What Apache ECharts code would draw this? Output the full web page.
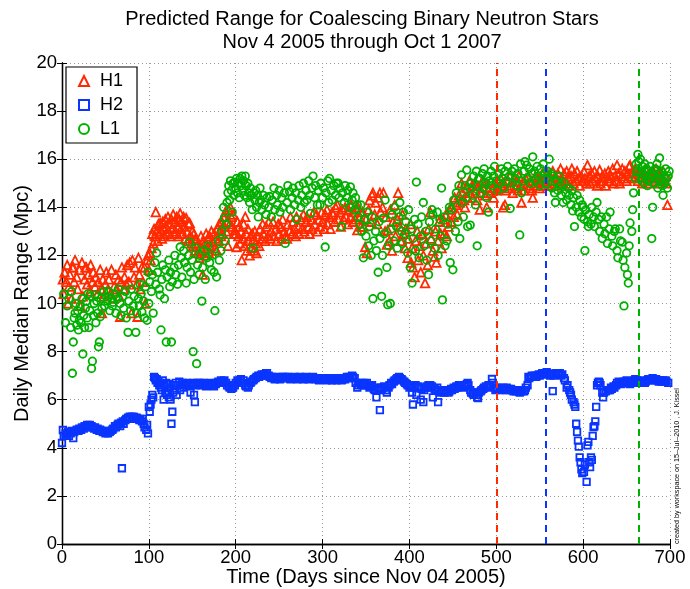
<!DOCTYPE html>
<html>
<head>
<meta charset="utf-8">
<script src="https://cdn.jsdelivr.net/npm/echarts@6/dist/echarts.min.js"></script>
<style>html,body{margin:0;padding:0;background:#fff}#chart{width:690px;height:589px}</style>
</head>
<body>
<div id="chart"></div>
<script>
const titleLines = ['Predicted Range for Coalescing Binary Neutron Stars', 'Nov 4 2005 through Oct 1 2007'];
const seriesNames = ['H1', 'H2', 'L1'];
const xTicks = [0, 100, 200, 300, 400, 500, 600, 700];
const yTicks = [0, 2, 4, 6, 8, 10, 12, 14, 16, 18, 20];
// Dashed markers (days) for H1, H2, L1
const markerDays = [500, 557, 664];

// H1: [day, range Mpc]
const h1 = [
[1,11.0],[2,10.4],[3,11.3],[5,10.9],[6,11.6],[7,10.0],[8,10.7],[9,11.2],[11,10.2],[12,11.5],[13,11.5],[14,10.9],[15,11.8],[17,11.1],[18,10.6],[20,11.4],[21,9.9],[23,11.7],[24,10.3],[26,11.0],[27,11.5],[28,11.5],[29,10.8],[30,11.2],[32,10.5],[33,11.6],[35,10.9],[36,11.3],[38,10.7],[39,11.1],[41,10.4],[42,10.9],[44,11.4],[45,10.6],[46,9.6],[47,11.0],[48,10.3],[50,10.8],[51,11.3],[53,10.6],[54,11.0],[56,10.4],[57,11.4],[59,10.2],[60,10.7],[62,11.2],[63,10.6],[65,11.0],[66,10.3],[67,9.45],[68,10.9],[69,11.5],[71,10.6],[72,11.1],[74,10.8],[75,11.6],[77,10.9],[78,11.7],[80,9.6],[81,11.8],[83,11.1],[84,11.5],[86,10.8],[87,9.45],[88,11.9],[89,11.2],[90,10.6],[92,11.5],[93,10.9],[95,11.5],[96,10.0],[98,11.8],[99,12.0],
[100,11.4],[101,12.1],[102,11.8],[103,12.3],[104,12.9],[105,12.5],[106,13.1],[107,12.8],[108,13.8],[109,13.0],[110,12.6],[111,13.3],[112,12.9],[113,13.35],[114,13.0],[115,12.7],[116,13.4],[117,13.1],[118,12.8],[119,13.5],[120,13.2],[121,12.9],[122,13.6],[123,13.0],[124,13.3],[125,12.8],[126,13.5],[127,13.1],[128,13.7],[129,12.9],[130,13.4],[131,13.0],[132,13.6],[133,13.2],[134,12.8],[135,13.5],[136,13.75],[137,13.1],[138,13.4],[139,12.9],[140,13.6],[141,13.2],[142,12.7],[143,13.55],[144,13.0],[145,12.6],[146,13.3],[147,13.35],[148,12.8],[149,12.5],[150,13.0],[151,12.4],[152,12.9],[153,12.2],[154,12.7],[155,12.65],[156,12.1],[157,12.5],[158,11.9],[159,12.35],[160,12.8],[161,12.2],[162,11.2],[163,12.6],[164,12.0],[165,12.55],[166,12.9],[167,12.3],[168,12.7],[169,12.1],[170,12.8],[171,12.4],[172,13.0],[173,12.6],[174,12.55],[175,12.9],[176,12.3],[177,12.7],[178,12.2],[179,13.1],[180,12.6],[181,13.3],[182,13.05],[183,12.8],[184,13.4],[185,12.9],[186,13.6],[187,13.2],[188,13.8],[189,13.0],[190,13.4],[191,12.4],[192,13.9],[193,13.3],[194,14.0],[195,13.6],[196,13.2],[197,13.7],[198,12.9],[199,13.05],
[200,12.9],[201,12.35],[202,13.4],[203,12.8],[204,13.2],[205,12.5],[206,13.0],[207,11.8],[208,12.7],[209,13.3],[210,12.4],[211,13.6],[212,12.9],[213,12.2],[214,13.1],[215,12.6],[216,12.0],[217,12.8],[218,12.3],[219,12.9],[220,12.65],[221,12.2],[222,13.0],[223,12.5],[224,12.1],[225,12.8],[227,12.4],[228,13.1],[230,12.7],[231,13.3],[232,12.9],[234,12.6],[235,13.2],[237,12.8],[238,13.4],[240,12.7],[241,13.0],[243,13.4],[244,12.8],[246,13.1],[247,12.6],[249,13.3],[250,12.9],[252,13.2],[253,12.7],[254,13.5],[256,13.0],[257,12.8],[259,12.7],[260,13.3],[262,13.0],[263,13.6],[265,12.9],[266,13.4],[268,13.1],[269,12.8],[270,13.6],[272,13.2],[273,12.9],[275,13.5],[276,13.1],[278,13.7],[279,13.0],[281,13.4],[282,13.6],[284,13.2],[285,12.9],[287,13.5],[288,13.1],[290,13.8],[291,13.3],[293,13.7],[294,13.0],[296,13.5],[297,13.2],[299,13.8],[300,13.4],[302,13.1],[303,13.7],[305,13.9],[306,13.3],[308,13.6],[309,13.1],[311,13.8],[312,13.7],[314,13.4],[315,14.0],[317,14.1],[318,13.5],[320,13.8],[321,13.2],[323,13.9],[324,13.5],[326,14.0],[327,13.6],[329,13.3],[330,13.9],[332,13.6],[333,14.1],[335,13.4],[336,13.8],[338,13.5],[339,14.0],
[340,13.05],[341,14.0],[343,13.6],[344,13.2],[346,13.8],[347,13.2],[349,12.35],[350,13.5],[351,12.1],[353,13.9],[354,14.3],[356,13.4],[357,14.5],[358,14.6],[360,13.7],[361,14.2],[363,13.3],[364,14.4],[366,14.6],[367,13.8],[369,14.0],[370,14.6],[372,13.0],[373,13.6],[374,12.45],[375,13.05],[377,12.6],[378,13.9],[380,12.2],[381,13.4],[383,14.1],[384,12.8],[386,13.5],[387,14.6],[389,13.2],[390,12.6],[392,13.7],[393,12.9],[395,12.3],[396,13.1],[398,11.9],[399,12.7],[401,13.3],[402,11.7],[403,12.3],[404,11.5],[406,11.1],[407,12.6],[409,13.0],[410,11.8],[412,12.4],[413,11.3],[415,12.9],[416,12.0],[418,10.85],[419,12.5],[421,11.6],[422,13.1],[424,13.8],[425,12.7],[427,12.2],[429,11.95],[430,13.0],[431,11.7],[433,12.6],[434,13.4],[436,12.9],[437,12.3],[439,13.5],[440,12.9],[442,13.7],[443,12.8],[445,13.2],[446,13.9],[448,13.4],[449,14.0],[451,13.6],[452,14.4],[454,14.1],[455,13.7],[457,14.5],[458,14.2],[460,15.0],[461,14.6],[463,14.3],[464,14.0],[466,14.8],[467,14.4],[469,15.1],[470,14.6],[472,14.9],[473,14.4],[475,15.0],[476,14.7],[478,14.3],[479,14.9],[481,13.9],[482,14.6],[484,15.1],[485,14.8],[487,14.5],[488,15.0],[489,14.0],[491,14.7],[493,14.6],[494,15.1],[496,14.8],[497,14.4],[499,15.0],
[500,14.7],[502,15.1],[503,14.8],[505,15.2],[506,14.9],[508,14.0],[509,15.0],[510,14.1],[511,14.7],[513,15.1],[514,14.8],[516,15.3],[517,14.9],[519,14.6],[520,15.2],[522,14.8],[523,15.1],[525,14.7],[526,15.3],[528,14.9],[529,14.2],[531,15.0],[532,14.7],[534,15.2],[535,14.9],[537,15.3],[538,14.8],[540,15.1],[541,14.7],[542,14.4],[544,15.0],[545,15.3],[547,14.9],[548,15.2],[550,14.8],[551,15.1],[553,15.4],[554,14.9],[556,15.2],[557,15.0],[559,15.4],[560,14.9],[562,15.3],[563,15.1],[565,15.5],[566,15.0],[568,15.3],[569,14.9],[571,15.4],[572,15.1],[574,15.6],[575,15.2],[577,15.0],[578,15.4],[580,15.1],[581,15.5],[583,15.2],[584,14.9],[586,15.3],[587,15.6],[589,15.0],[590,15.4],[592,15.1],[593,15.5],[595,15.2],[596,14.9],[598,15.3],[599,15.1],[601,15.5],[602,15.2],[604,15.0],[605,15.75],[607,15.3],[608,15.0],[610,15.4],[611,15.1],[613,15.5],[614,15.2],[616,14.9],[617,15.3],[619,15.55],[620,15.0],[622,15.3],[623,15.1],[625,15.4],[626,14.9],[628,15.2],[629,15.5],[631,15.1],[632,15.3],[634,15.6],[635,15.0],[637,15.3],[638,15.1],[639,15.75],[641,15.4],[642,15.0],[644,15.3],[645,15.6],[647,15.2],[648,15.5],[650,15.1],[651,15.4],[653,15.7],[654,15.75],[656,15.3],[657,15.5],[659,15.2],[660,15.6],[662,15.4],[663,15.1],[665,15.5],[666,15.3],[668,15.0],[669,15.4],[671,15.2],[672,15.6],[674,15.3],[675,15.0],[677,15.4],[678,15.2],[680,15.5],[681,15.1],[683,15.3],[684,15.6],[686,15.2],[687,15.0],[689,15.4],[690,15.2],[692,15.5],[693,15.1],[695,15.3],[696,15.0],[697,14.1]
];

// H2: [day, range Mpc]
const h2 = [
[0,4.2],[1,4.74],[2,4.5],[4,4.6],[5,4.55],[7,4.65],[8,4.5],[10,4.6],[11,4.7],[13,4.4],[14,4.65],[16,4.7],[17,4.75],[19,4.7],[20,4.8],[22,4.75],[23,4.85],[25,4.8],[26,4.9],[28,4.85],[29,4.95],[31,4.9],[32,4.95],[34,4.9],[35,4.85],[37,4.8],[38,4.85],[40,4.75],[41,4.8],[43,4.7],[44,4.75],[46,4.7],[47,4.65],[49,4.7],[50,4.6],[52,4.65],[53,4.6],[55,4.66],[56,4.7],[58,4.75],[59,4.8],[61,4.9],[62,4.85],[64,4.95],[65,5.0],[67,4.9],[68,5.05],[69,3.15],[70,5.1],[71,5.0],[73,5.15],[74,5.2],[76,5.25],[77,5.2],[78,5.3],[80,5.25],[81,5.3],[83,5.28],[84,5.2],[86,5.25],[87,5.2],[89,5.15],[90,5.2],[92,5.1],[93,5.2],[94,5.0],[95,4.85],[97,4.75],[98,4.95],[99,4.6],
[100,5.7],[101,5.5],[102,5.8],[103,6.0],[104,6.2],[105,6.1],[106,6.95],[107,6.9],[108,6.8],[109,6.85],[110,6.7],[111,6.75],[112,6.6],[113,6.7],[114,6.5],[115,6.4],[116,6.8],[117,6.0],[118,6.6],[119,6.3],[120,6.7],[121,6.2],[122,6.65],[123,6.1],[124,6.5],[125,6.0],[126,5.0],[127,5.5],[128,6.3],[129,6.6],[130,6.4],[131,6.7],[132,6.2],[133,6.6],[135,6.75],[136,6.4],[137,6.6],[139,6.7],[140,6.5],[141,6.65],[143,6.6],[144,6.7],[146,6.55],[147,6.6],[148,6.3],[150,6.65],[151,6.7],[152,6.2],[153,5.9],[154,6.6],[156,6.7],[157,6.65],[159,6.7],[160,6.6],[162,6.65],[163,6.7],[165,6.6],[166,6.55],[168,6.65],[169,6.6],[171,6.7],[172,6.65],[174,6.6],[175,6.55],[177,6.65],[178,6.7],[180,6.75],[181,6.7],[183,6.8],[184,6.7],[186,6.75],[187,6.8],[189,6.7],[190,6.6],[192,6.55],[193,6.5],[195,6.45],[196,6.5],[197,6.5],[199,6.6],
[200,6.7],[202,6.8],[203,6.75],[205,6.8],[206,6.85],[208,6.7],[209,6.8],[211,6.6],[212,6.55],[214,6.5],[215,6.6],[217,6.7],[218,6.75],[220,6.8],[221,6.85],[223,6.9],[224,6.95],[226,7.0],[227,6.95],[229,7.0],[230,7.05],[232,7.0],[233,7.05],[235,7.1],[236,7.1],[238,7.0],[239,6.95],[241,6.9],[242,6.95],[244,6.9],[245,6.85],[247,6.9],[248,6.95],[250,6.9],[251,6.85],[253,6.9],[254,6.95],[256,6.9],[257,6.95],[259,6.9],[260,6.95],[262,6.9],[263,6.85],[265,6.9],[266,6.9],[268,6.95],[269,6.9],[271,6.85],[272,6.9],[274,6.95],[275,6.9],[277,6.9],[278,6.85],[280,6.9],[281,6.95],[283,6.9],[284,6.85],[286,6.9],[287,6.9],[289,6.95],[290,6.9],[292,6.85],[293,6.9],[295,6.85],[296,6.8],[298,6.85],[299,6.9],
[301,6.85],[302,6.9],[304,6.85],[305,6.8],[307,6.85],[308,6.9],[310,6.85],[311,6.8],[313,6.9],[314,6.85],[316,6.8],[317,6.85],[319,6.9],[320,6.85],[322,6.8],[323,6.85],[325,6.9],[326,6.85],[328,6.95],[329,6.9],[331,6.95],[332,6.9],[334,7.0],[335,6.95],[337,6.9],[338,6.7],[340,6.5],[341,6.6],[343,6.7],[344,6.65],[346,6.6],[347,6.7],[349,6.65],[350,6.6],[351,6.7],[353,6.6],[354,6.5],[356,6.55],[357,6.6],[359,6.45],[360,6.4],[362,6.1],[363,6.5],[365,6.4],[366,5.57],[367,6.5],[368,6.45],[370,6.5],[371,6.55],[373,6.4],[374,6.3],[376,6.5],[377,6.6],[379,6.7],[380,6.65],[382,6.75],[383,6.8],[385,6.85],[386,6.9],[388,6.95],[389,6.9],[391,6.85],[392,6.8],[394,6.75],[395,6.7],[397,6.65],[398,6.6],
[400,6.5],[401,6.55],[403,6.3],[404,5.8],[405,6.5],[407,6.6],[408,6.2],[410,6.55],[411,6.5],[413,6.0],[414,6.45],[416,5.9],[417,6.4],[419,6.5],[420,6.55],[422,6.6],[423,6.5],[424,6.6],[426,6.55],[427,6.1],[429,6.45],[430,6.4],[432,6.5],[433,5.9],[434,6.35],[436,6.3],[437,6.4],[439,6.35],[440,6.3],[442,6.35],[443,6.4],[445,6.3],[446,6.35],[448,6.45],[449,6.4],[451,6.5],[452,6.45],[454,6.55],[455,6.5],[457,6.6],[458,6.55],[460,6.6],[461,6.5],[463,6.55],[464,6.6],[466,6.65],[467,6.7],[468,6.6],[470,6.4],[471,6.3],[473,6.25],[474,6.2],[476,6.3],[477,6.2],[478,6.1],[479,6.07],[480,6.3],[482,6.35],[483,6.4],[485,6.45],[486,6.5],[488,6.55],[489,6.5],[491,6.6],[492,6.55],[493,6.6],[495,6.86],[496,6.7],[498,6.5],[499,6.4],
[501,6.45],[502,6.5],[504,6.45],[505,6.4],[507,6.45],[508,6.5],[510,6.45],[511,6.4],[512,6.5],[514,6.45],[515,6.4],[517,6.45],[518,6.4],[520,6.35],[521,6.4],[523,6.35],[524,6.4],[526,6.35],[527,6.3],[529,6.35],[530,6.4],[532,6.35],[533,6.4],[534,6.5],[536,6.6],[537,6.95],[538,6.9],[540,6.95],[541,7.0],[543,6.95],[544,7.0],[546,6.95],[547,7.0],[549,7.05],[550,7.0],[552,7.05],[553,7.1],[555,7.05],[556,7.1],[558,7.15],[559,7.1],[561,7.05],[562,7.0],[564,7.05],[565,6.36],[566,7.0],[568,7.05],[569,7.1],[571,7.05],[572,7.1],[573,7.1],[575,7.0],[576,7.05],
[578,6.9],[579,6.8],[581,6.5],[582,6.6],[584,6.4],[585,6.3],[586,6.2],[587,6.0],[589,5.9],[590,5.8],[591,5.7],[592,5.0],[593,4.66],[594,4.3],[595,4.05],[596,3.6],[597,3.4],[598,3.1],[599,2.95],[601,3.0],[602,3.3],[604,2.58],[605,4.1],[606,4.25],[607,3.4],[608,3.2],[609,3.6],[610,3.5],[611,4.5],[612,4.86],[613,4.9],[614,5.1],[615,5.7],[616,6.6],[617,6.7],[618,6.75],[619,6.7],[620,6.6],[622,6.3],[623,6.1],[624,6.3],[626,6.35],[628,6.4],[629,6.4],[631,6.4],[632,6.5],[633,6.45],[635,6.55],[636,6.5],[638,6.6],[639,6.7],[641,6.75],[642,6.7],[644,6.65],[645,6.7],[647,6.75],[648,6.7],[650,6.8],[651,6.75],[653,6.7],[654,6.65],[656,6.7],[657,6.75],[659,6.8],[660,6.85],[662,6.8],[663,6.75],[665,6.7],[666,6.75],[668,6.8],[669,6.75],[671,6.7],[672,6.75],[674,6.8],[675,6.85],[677,6.8],[678,6.85],[680,6.9],[681,6.85],[683,6.8],[684,6.85],[686,6.8],[687,6.75],[689,6.8],[690,6.75],[692,6.8],[693,6.75],[695,6.8],[696,6.75],[698,6.7]
];

// L1: [day, range Mpc]
const l1 = [
[2,10.4],[4,9.2],[6,9.9],[8,10.2],[10,9.0],[11,10.5],[12,7.1],[13,8.4],[14,9.4],[15,9.6],[16,10.0],[17,9.1],[18,9.7],[19,8.9],[20,9.3],[21,9.9],[22,9.2],[23,10.2],[24,7.9],[25,9.5],[26,9.0],[27,9.8],[28,10.1],[29,9.4],[30,10.4],[31,9.0],[32,9.7],[33,10.3],[34,7.3],[35,7.6],[36,9.5],[37,10.0],[38,10.35],[39,9.2],[40,10.1],[41,9.6],[42,8.2],[43,8.4],[44,9.45],[45,10.2],[46,9.8],[48,10.5],[49,9.9],[51,10.3],[52,10.1],[54,10.5],[55,9.7],[57,10.2],[58,9.9],[59,10.05],[61,10.4],[62,9.6],[64,10.2],[65,10.6],[67,10.0],[68,9.5],[70,10.3],[71,9.8],[73,10.5],[74,9.4],[76,8.8],[77,10.1],[79,9.7],[80,10.6],[82,9.9],[83,10.3],[85,8.8],[86,9.6],[88,10.2],[89,9.9],[90,10.8],[91,10.4],[92,9.65],[94,10.1],[95,9.4],[96,10.7],[98,9.3],[99,11.3],
[100,10.0],[101,10.9],[103,10.5],[104,11.2],[105,9.6],[107,11.7],[108,10.8],[109,12.1],[110,11.3],[112,10.6],[113,10.35],[114,8.9],[115,11.0],[116,11.6],[118,10.2],[119,11.4],[120,8.4],[121,11.1],[123,11.8],[124,10.7],[125,11.3],[126,8.4],[127,10.9],[129,11.5],[130,12.0],[131,11.2],[133,10.8],[134,11.6],[136,12.35],[137,11.9],[138,11.1],[140,12.2],[141,11.7],[143,10.85],[144,11.5],[146,12.0],[147,12.55],[148,11.3],[150,11.8],[151,8.0],[152,11.0],[154,12.3],[155,7.5],[156,11.6],[158,11.2],[159,12.0],[161,10.1],[162,11.5],[164,12.2],[165,11.0],[167,11.9],[168,12.4],[170,11.7],[172,11.4],[173,12.0],[175,11.3],[176,9.7],[178,11.1],[180,12.6],[181,11.8],[183,12.2],[184,13.0],[186,14.0],[187,13.55],[188,12.6],[189,13.3],[190,14.2],
[191,14.6],[192,14.9],[193,14.3],[194,15.1],[195,14.7],[196,13.8],[197,15.0],[198,14.5],[199,15.05],[200,14.8],[201,15.2],[202,14.6],[203,15.0],[204,14.4],[205,15.2],[206,14.9],[207,15.3],[208,14.7],[209,15.1],[210,14.5],[211,15.3],[212,14.9],[213,14.4],[214,15.0],[215,14.6],[216,14.2],[217,14.8],[218,14.5],[219,13.9],[220,12.3],[221,14.6],[222,14.3],[223,14.7],[224,14.0],[225,14.5],[226,13.6],[227,14.2],[228,14.8],[229,14.3],[230,13.9],[232,14.5],[233,14.1],[235,13.7],[236,14.4],[238,14.0],[239,14.45],
[241,13.6],[242,14.3],[244,14.8],[245,13.9],[247,14.5],[248,14.1],[250,14.7],[251,13.8],[253,14.4],[254,14.0],[256,14.6],[257,12.5],[259,14.2],[260,14.9],[262,14.65],[263,13.9],[265,14.4],[266,14.8],[268,14.1],[269,14.6],[270,13.5],[272,14.3],[273,14.9],[275,14.0],[276,14.5],[278,15.0],[279,14.2],[281,14.7],[282,14.3],[284,15.1],[285,14.5],[286,13.75],[288,14.8],[289,15.3],[291,14.4],[292,14.9],[294,14.1],[295,14.7],[297,14.1],[298,15.0],[300,14.4],[301,14.8],[303,12.35],[304,14.6],[306,15.1],[307,14.2],[308,15.2],[310,14.7],[311,14.3],[313,14.9],[315,14.5],[316,15.0],[318,15.0],[319,14.4],[320,14.8],[322,13.2],[323,14.6],[325,14.2],[326,14.9],[328,14.4],[329,14.7],[331,14.0],[332,14.85],[334,14.3],[335,14.6],[337,13.9],[338,14.4],
[340,14.1],[341,13.6],[343,13.3],[344,14.1],[345,13.0],[347,11.9],[348,13.5],[350,12.8],[351,13.8],[353,12.4],[354,13.2],[356,12.0],[357,13.6],[358,10.2],[359,12.6],[361,13.0],[362,12.2],[364,11.3],[365,13.4],[366,12.7],[368,10.3],[369,12.0],[370,13.55],[371,12.9],[372,14.3],[374,11.5],[375,9.95],[376,12.4],[378,10.0],[379,13.1],[380,13.7],[382,12.6],[383,14.0],[385,13.2],[386,12.3],[388,13.6],[389,14.2],[391,13.0],[392,12.5],[393,13.8],[395,12.9],[396,13.4],[398,12.1],[399,13.9],[401,11.5],[402,13.1],[403,10.85],[404,12.7],[406,13.5],[407,12.2],[408,15.05],[410,13.3],[411,11.9],[413,12.8],[414,13.6],[416,14.2],[417,12.4],[419,13.0],[420,11.8],[422,11.2],[423,13.4],[425,12.6],[426,13.9],[427,13.7],[429,12.3],[430,13.1],[432,13.8],[433,12.0],[435,13.5],[436,12.8],[437,14.8],[438,10.15],[440,13.6],[441,12.4],[443,12.6],[444,13.3],[446,14.0],[447,11.7],[448,13.9],[450,11.4],[451,14.3],[453,13.0],[454,14.6],[456,13.4],[457,14.9],[458,12.7],[460,15.35],[461,14.2],[462,13.6],[464,14.9],[465,14.4],[466,15.55],[467,13.2],[469,14.8],[470,13.26],
[471,15.0],[473,14.5],[474,15.3],[476,14.1],[477,15.5],[478,12.4],[479,14.9],[480,15.2],[481,15.2],[482,14.6],[484,15.4],[485,14.8],[486,15.6],[488,15.0],[489,14.4],[490,15.3],[491,13.8],[492,15.1],[494,15.5],[495,14.9],[497,15.3],[498,15.7],[500,15.1],[501,14.7],[503,15.4],[504,15.0],[506,15.6],[507,15.2],[509,14.8],[510,15.5],[512,15.1],[513,15.7],[515,15.3],[516,13.95],[518,15.5],[519,15.0],[521,15.6],[522,15.2],[524,14.9],[525,15.4],[527,12.85],[528,15.8],[529,14.6],[530,15.1],[532,15.5],[533,15.9],[535,15.75],[536,15.2],[538,15.6],[539,15.0],[541,15.4],[542,16.1],[544,15.5],[545,15.1],[547,15.7],[548,15.3],[550,14.9],[551,15.6],[553,15.2],[554,15.8],[556,15.4],[557,15.0],[559,15.5],
[560,15.2],[561,16.0],[563,15.4],[564,14.8],[565,15.3],[567,14.6],[568,14.2],[569,15.1],[571,14.7],[572,15.3],[574,14.9],[575,14.5],[577,14.2],[578,15.0],[580,14.6],[581,14.3],[583,14.8],[584,14.5],[586,14.1],[587,14.7],[588,13.85],[589,14.4],[590,13.2],[592,14.0],[593,14.5],[595,13.8],[596,14.3],[598,13.6],[599,14.1],[600,14.0],[601,13.5],[602,12.2],[603,13.9],[605,13.4],[606,13.2],[607,13.7],[609,13.3],[610,14.0],[612,13.6],[613,13.2],[615,13.8],[616,14.2],[618,13.5],[619,13.0],[621,13.6],[622,12.7],[624,13.3],[625,12.9],[627,13.6],[628,12.5],[630,13.1],[631,13.8],[633,12.8],[634,12.4],[636,13.0],[637,13.1],[639,12.2],[640,11.9],[642,13.1],[643,12.6],[645,12.55],[646,11.8],[647,9.9],[648,11.5],[650,12.1],[651,11.2],[652,10.85],[653,12.4],[654,13.35],[656,13.0],[657,13.9],[658,14.6],[660,15.2],[661,15.8],[662,15.5],
[663,16.2],[664,15.9],[665,15.5],[666,16.0],[667,15.2],[668,15.7],[669,15.4],[670,15.0],[671,15.8],[672,15.3],[673,15.6],[674,14.9],[675,15.5],[676,15.1],[677,15.7],[678,15.3],[679,12.7],[680,14.0],[681,15.4],[682,15.0],[683,15.6],[684,15.2],[685,15.8],[686,14.8],[687,15.4],[688,16.05],[689,15.1],[690,15.5],[691,14.9],[692,14.5],[693,15.3],[694,15.0],[695,15.6],[696,15.2],[697,14.8],[698,15.3],[699,15.5]
];

const colors = ['#ff2a00', '#0a34ff', '#00b000'];
const symbols = ['triangle', 'rect', 'circle'];
const sizes = [8.5, 6.5, 7.5];
const dataSets = [h1, h2, l1];
const FONT = 'Liberation Sans, Arial, Helvetica, sans-serif';

const chart = echarts.init(document.getElementById('chart'), null, {renderer: 'canvas'});

const gridLine = {show: true, lineStyle: {color: '#9a9a9a', type: [1, 3], width: 1}};
const axisBase = {
  type: 'value', min: 0,
  axisLine: {show: true, lineStyle: {color: '#000', width: 1.3}},
  axisTick: {show: true, inside: true, length: 5, lineStyle: {color: '#000', width: 1}},
  axisLabel: {color: '#000', fontFamily: FONT, fontSize: 18.5}
};

const series = seriesNames.map((name, i) => ({
  name: name,
  type: 'scatter',
  data: dataSets[i],
  symbol: symbols[i],
  symbolSize: sizes[i],
  itemStyle: {color: 'rgba(255,255,255,0)', borderColor: colors[i], borderWidth: 1.8, opacity: 1},
  emphasis: {disabled: true},
  markLine: {
    silent: true, symbol: ['none', 'none'], label: {show: false}, animation: false,
    lineStyle: {color: colors[i], type: [7, 5], width: 2},
    data: [{xAxis: markerDays[i]}]
  },
  z: 2 + i
}));

chart.setOption({
  animation: false,
  backgroundColor: '#fff',
  title: {
    text: titleLines.join('\n'),
    left: 357, top: 3, textAlign: 'center',
    textStyle: {fontFamily: FONT, fontSize: 20, fontWeight: 'normal', color: '#000', lineHeight: 23}
  },
  legend: {
    orient: 'vertical', left: 66, top: 67,
    data: seriesNames,
    itemWidth: 10, itemHeight: 10, itemGap: 6,
    padding: [5, 14, 5, 12],
    borderColor: '#000', borderWidth: 1.2, backgroundColor: '#fff',
    textStyle: {fontFamily: FONT, fontSize: 18, color: '#000', padding: [0, 0, 0, 6]},
    selectedMode: false
  },
  grid: {left: 62, right: 20, top: 63, bottom: 45, containLabel: false, outerBoundsMode: 'none'},
  xAxis: [
    Object.assign({}, axisBase, {
      position: 'bottom', max: 700, interval: 100,
      splitLine: gridLine,
      axisLabel: Object.assign({}, axisBase.axisLabel, {margin: 4, formatter: v => xTicks.includes(v) ? String(v) : ''}),
      name: 'Time (Days since Nov 04 2005)', nameLocation: 'middle', nameGap: 23, nameMoveOverlap: false,
      nameTextStyle: {fontFamily: FONT, fontSize: 20, color: '#000'}
    }),
    Object.assign({}, axisBase, {
      position: 'top', max: 700, interval: 100, splitLine: {show: false}, axisLabel: {show: false}
    })
  ],
  yAxis: [
    Object.assign({}, axisBase, {
      position: 'left', max: 20, interval: 2,
      splitLine: gridLine,
      axisLabel: Object.assign({}, axisBase.axisLabel, {margin: 5, formatter: v => yTicks.includes(v) ? String(v) : ''}),
      name: 'Daily Median Range (Mpc)', nameLocation: 'middle', nameGap: 30, nameMoveOverlap: false,
      nameTextStyle: {fontFamily: FONT, fontSize: 20, color: '#000'}
    }),
    Object.assign({}, axisBase, {
      position: 'right', max: 20, interval: 2, splitLine: {show: false}, axisLabel: {show: false}
    })
  ],
  graphic: [{
    type: 'text', x: 677, y: 466, rotation: Math.PI / 2,
    style: {text: 'created by workspace on 15\u2013Jul\u20132010 , J. Kissel', fontFamily: FONT, fontSize: 7.2, fill: '#000', align: 'center', verticalAlign: 'middle'}
  }],
  series: series
});
</script>
</body>
</html>
